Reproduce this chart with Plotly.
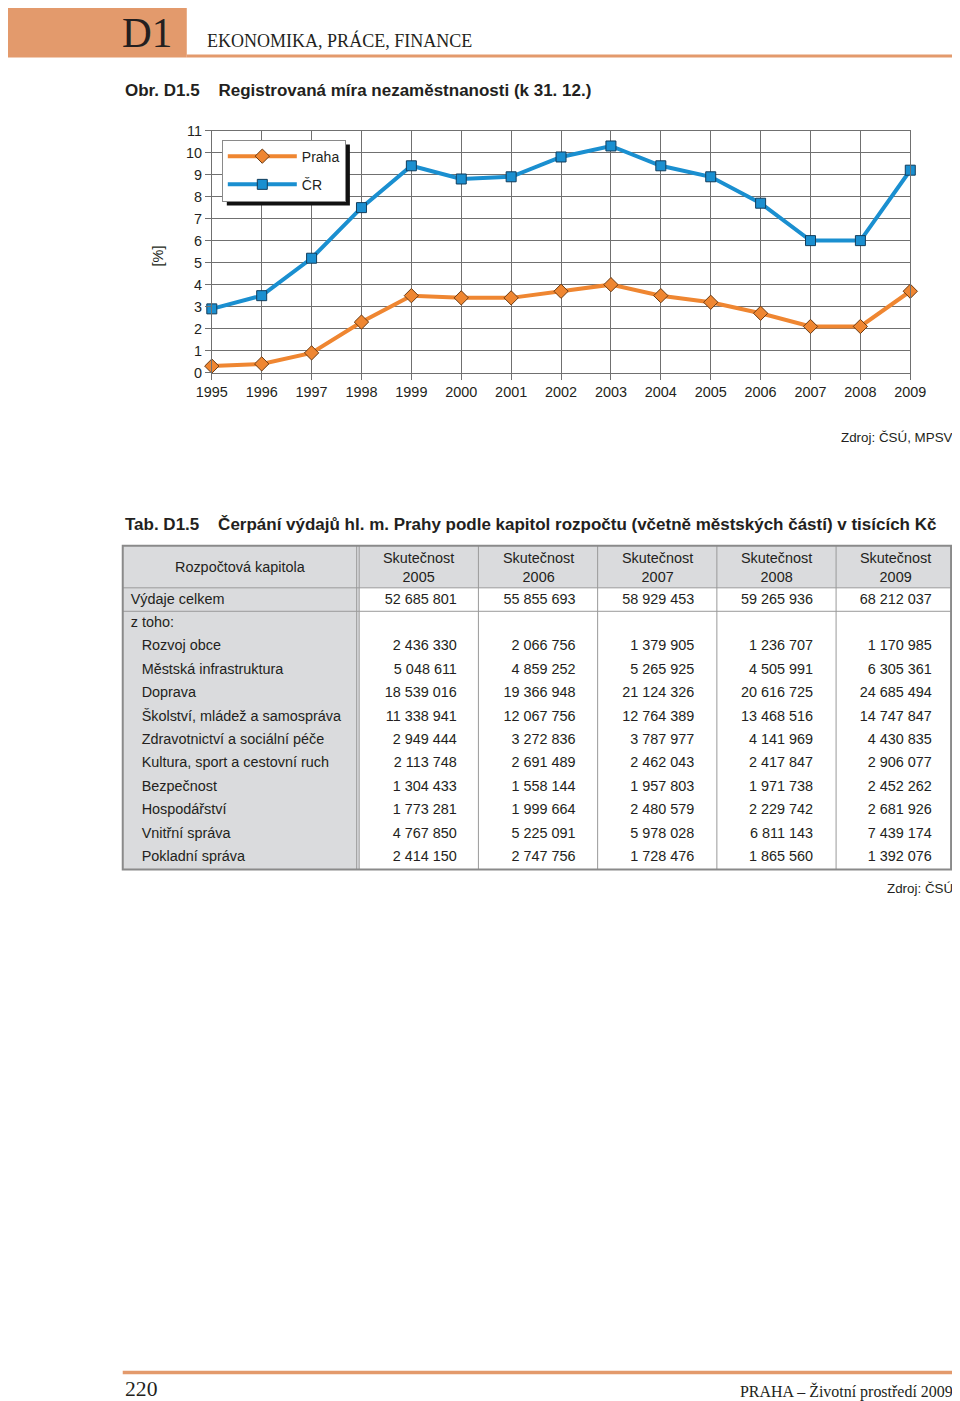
import plotly.graph_objects as go

# ---------------- data ----------------
years = [1995, 1996, 1997, 1998, 1999, 2000, 2001, 2002, 2003, 2004, 2005, 2006, 2007, 2008, 2009]
praha = [0.3, 0.4, 0.9, 2.3, 3.5, 3.4, 3.4, 3.7, 4.0, 3.5, 3.2, 2.7, 2.1, 2.1, 3.7]
cr = [2.9, 3.5, 5.2, 7.5, 9.4, 8.8, 8.9, 9.8, 10.3, 9.4, 8.9, 7.7, 6.0, 6.0, 9.2]
y_ticks = list(range(0, 12))

table_header_first = "Rozpočtová kapitola"
table_header_word = "Skutečnost"
table_years = [2005, 2006, 2007, 2008, 2009]
chapters = ["Výdaje celkem", "z toho:", "Rozvoj obce", "Městská infrastruktura", "Doprava",
            "Školství, mládež a samospráva", "Zdravotnictví a sociální péče",
            "Kultura, sport a cestovní ruch", "Bezpečnost", "Hospodářství",
            "Vnitřní správa", "Pokladní správa"]
v2005 = [52685801, None, 2436330, 5048611, 18539016, 11338941, 2949444, 2113748, 1304433, 1773281, 4767850, 2414150]
v2006 = [55855693, None, 2066756, 4859252, 19366948, 12067756, 3272836, 2691489, 1558144, 1999664, 5225091, 2747756]
v2007 = [58929453, None, 1379905, 5265925, 21124326, 12764389, 3787977, 2462043, 1957803, 2480579, 5978028, 1728476]
v2008 = [59265936, None, 1236707, 4505991, 20616725, 13468516, 4141969, 2417847, 1971738, 2229742, 6811143, 1865560]
v2009 = [68212037, None, 1170985, 6305361, 24685494, 14747847, 4430835, 2906077, 2452262, 2681926, 7439174, 1392076]

# ---------------- style ----------------
W, H = 960, 1401
OFF = 8                      # page margin around the figure
AX, SX = 16.6, 0.966         # observed page -> photo mapping (x)
AY, SY = 7.6, 0.988          # observed page -> photo mapping (y)
FS = 1.03                    # font compensation
SANS = "Liberation Sans, Arial, Helvetica, sans-serif"
SERIF = "Liberation Serif, Times New Roman, serif"
TXT = "#231f20"
ORANGE = "#ef8631"
BLUE = "#1a8fd0"
ACCENT = "#e39a6c"
GRID = "#707070"
TGRAY = "#dadbdd"
TLINE = "#9a9a9a"


def px(x, clamp=False):
    v = ((x - AX) / SX - OFF) / W
    return min(1.0, max(0.0, v)) if clamp else v


def py(y, clamp=False):
    v = 1 - ((y - AY) / SY - OFF) / H
    return min(1.0, max(0.0, v)) if clamp else v


def ly(d):
    return d / SY


def f(size):
    return size * FS


def fmt(v):
    if v is None:
        return ""
    return f"{v:,}".replace(",", " ")


fig = go.Figure()

fig.add_trace(go.Scatter(
    x=years, y=praha, name="Praha", mode="lines+markers", legendgroup="p",
    cliponaxis=False,
    line=dict(color=ORANGE, width=4),
    marker=dict(symbol="diamond", size=11, color=ORANGE, line=dict(color="#6b3a12", width=1)),
))
fig.add_trace(go.Scatter(
    x=years, y=cr, name="ČR", mode="lines+markers", legendgroup="c",
    cliponaxis=False,
    line=dict(color=BLUE, width=4),
    marker=dict(symbol="square", size=10, color=BLUE, line=dict(color="#123d5c", width=1)),
))

# ---------------- table ----------------
colwidths = [236, 119, 119, 119, 119, 119]
tab_left, tab_right, tab_top = 123, 955, 545
head_h, row_h = 42, 23.45
tab_bottom = tab_top + head_h + row_h * len(chapters)
text_lift = 3.5
cell_h = 23.12  # plotly renders rows slightly taller than requested

indent = "\u00a0\u00a0\u2009"
labels = [c if i < 2 else indent + c for i, c in enumerate(chapters)]
pad = "\u00a0\u00a0\u00a0"
cols = [[fmt(v) + pad for v in col] for col in (v2005, v2006, v2007, v2008, v2009)]

fig.add_trace(go.Table(
    domain=dict(x=[px(tab_left, True), px(tab_right, True)],
                y=[py(tab_bottom + 20, True), py(tab_top - text_lift, True)]),
    columnwidth=colwidths,
    header=dict(
        values=[""] * 6,
        fill_color="rgba(0,0,0,0)", line=dict(width=0, color="rgba(0,0,0,0)"),
        font=dict(family=SANS, size=f(14), color=TXT), height=ly(head_h),
    ),
    cells=dict(
        values=[labels] + cols,
        fill_color="rgba(0,0,0,0)",
        line=dict(width=0, color="rgba(0,0,0,0)"),
        align=["left"] + ["right"] * 5,
        font=dict(family=SANS, size=f(14), color=TXT), height=ly(cell_h),
    ),
))

shapes = []
tot = sum(colwidths)
bounds = [tab_left]
for w in colwidths:
    bounds.append(bounds[-1] + w / tot * (tab_right - tab_left))
edge = min(px(tab_right), 0.999)
shapes.append(dict(type="rect", xref="paper", yref="paper", x0=px(tab_left), x1=edge,
                   y0=py(tab_top + head_h), y1=py(tab_top), fillcolor=TGRAY, line=dict(width=0), layer="below"))
shapes.append(dict(type="rect", xref="paper", yref="paper", x0=px(tab_left), x1=px(bounds[1]),
                   y0=py(tab_bottom), y1=py(tab_top), fillcolor=TGRAY, line=dict(width=0), layer="below"))
for i, bx in enumerate(bounds[1:-1]):
    shapes.append(dict(type="line", xref="paper", yref="paper", x0=px(bx), x1=px(bx),
                       y0=py(tab_top), y1=py(tab_bottom), line=dict(color=TLINE, width=1), layer="below"))
    if i == 0:
        shapes.append(dict(type="line", xref="paper", yref="paper", x0=px(bx - 2.5), x1=px(bx - 2.5),
                           y0=py(tab_top), y1=py(tab_bottom), line=dict(color=TLINE, width=1), layer="below"))
for yy in (tab_top + head_h, tab_top + head_h + row_h):
    shapes.append(dict(type="line", xref="paper", yref="paper", x0=px(tab_left), x1=edge,
                       y0=py(yy), y1=py(yy), line=dict(color=TLINE, width=1), layer="below"))
shapes.append(dict(type="rect", xref="paper", yref="paper", x0=px(tab_left), x1=edge,
                   y0=py(tab_bottom), y1=py(tab_top), line=dict(color="#8a8a8a", width=2), layer="below"))

# header / footer decorations
shapes.append(dict(type="rect", xref="paper", yref="paper", x0=px(0), x1=px(187), y0=py(57), y1=py(7),
                   fillcolor=ACCENT, line=dict(width=0), layer="below"))
shapes.append(dict(type="rect", xref="paper", yref="paper", x0=px(187), x1=px(955), y0=py(57), y1=py(54),
                   fillcolor=ACCENT, line=dict(width=0), layer="below"))
shapes.append(dict(type="rect", xref="paper", yref="paper", x0=px(123), x1=px(955), y0=py(1373), y1=py(1369.5),
                   fillcolor=ACCENT, line=dict(width=0), layer="below"))

leg_x, leg_y, leg_w, leg_h = 222, 139, 124, 62
shapes.append(dict(type="rect", xref="paper", yref="paper",
                   x0=px(leg_x + 5), x1=px(leg_x + leg_w + 4), y0=py(leg_y + leg_h + 4), y1=py(leg_y + 5),
                   fillcolor="#111111", line=dict(width=0), layer="above"))

annotations = [
    dict(text="D1", x=px(147), y=py(32), font=dict(family=SERIF, size=f(40), color=TXT)),
    dict(text="EKONOMIKA, PRÁCE, FINANCE", x=px(205), y=py(40), xanchor="left",
         font=dict(family=SERIF, size=f(17.5), color=TXT)),
    dict(text="<b>Obr. D1.5\u00a0\u00a0\u00a0 Registrovaná míra nezaměstnanosti (k 31. 12.)</b>",
         x=px(123), y=py(90), xanchor="left", font=dict(family=SANS, size=f(16.5), color=TXT)),
    dict(text="[%]", x=px(158), y=py(255), textangle=-90, font=dict(family=SANS, size=f(14), color=TXT)),
    dict(text="Zdroj: ČSÚ, MPSV", x=px(955), y=py(437), xanchor="right",
         font=dict(family=SANS, size=f(13), color=TXT)),
    dict(text="<b>Tab. D1.5\u00a0\u00a0\u00a0 Čerpání výdajů hl. m. Prahy podle kapitol rozpočtu (včetně městských částí) v tisících Kč</b>",
         x=px(123), y=py(524), xanchor="left", font=dict(family=SANS, size=f(16.5), color=TXT)),
    dict(text="Zdroj: ČSÚ", x=px(955), y=py(887), xanchor="right",
         font=dict(family=SANS, size=f(13), color=TXT)),
    dict(text="220", x=px(123), y=py(1388), xanchor="left", font=dict(family=SERIF, size=f(21), color=TXT)),
    dict(text="PRAHA – Životní prostředí 2009", x=px(955), y=py(1390), xanchor="right",
         font=dict(family=SERIF, size=f(15.5), color=TXT)),
    dict(text=table_header_first, x=px((bounds[0] + bounds[1]) / 2), y=py(tab_top + head_h / 2),
         font=dict(family=SANS, size=f(14), color=TXT)),
]
for j, yr in enumerate(table_years):
    annotations.append(dict(text=f"{table_header_word}<br>{yr}", x=px((bounds[j + 1] + bounds[j + 2]) / 2),
                            y=py(tab_top + head_h / 2 + 0.5),
                            font=dict(family=SANS, size=f(14), color=TXT)))
for a in annotations:
    a.update(xref="paper", yref="paper", showarrow=False)
    a.setdefault("xanchor", "center")
    a.setdefault("yanchor", "middle")

fig.update_layout(
    width=W, height=H,
    margin=dict(l=0, r=0, t=0, b=0),
    paper_bgcolor="white", plot_bgcolor="white",
    font=dict(family=SANS, size=f(14), color=TXT),
    showlegend=True,
    legend=dict(x=px(leg_x), y=py(leg_y), xanchor="left", yanchor="top",
                bgcolor="white", bordercolor="#8a8a8a", borderwidth=1,
                font=dict(family=SANS, size=14, color=TXT),
                traceorder="grouped", tracegroupgap=7, itemwidth=69),
    xaxis=dict(domain=[px(212, True), px(910, True)], range=[1995, 2009], tickmode="array", tickvals=years,
               showgrid=True, gridcolor=GRID, gridwidth=1, zeroline=False,
               showline=True, linecolor=GRID, linewidth=1, mirror=True,
               ticks="outside", ticklen=6, tickcolor=GRID,
               tickfont=dict(family=SANS, size=f(14), color=TXT)),
    yaxis=dict(domain=[py(372, True), py(130, True)], range=[0, 11], tickmode="array", tickvals=y_ticks,
               showgrid=True, gridcolor=GRID, gridwidth=1, zeroline=False,
               showline=True, linecolor=GRID, linewidth=1, mirror=True,
               ticks="outside", ticklen=6, tickcolor=GRID,
               tickfont=dict(family=SANS, size=f(14), color=TXT)),
    shapes=shapes,
    annotations=annotations,
)

fig.write_html("out.html")
